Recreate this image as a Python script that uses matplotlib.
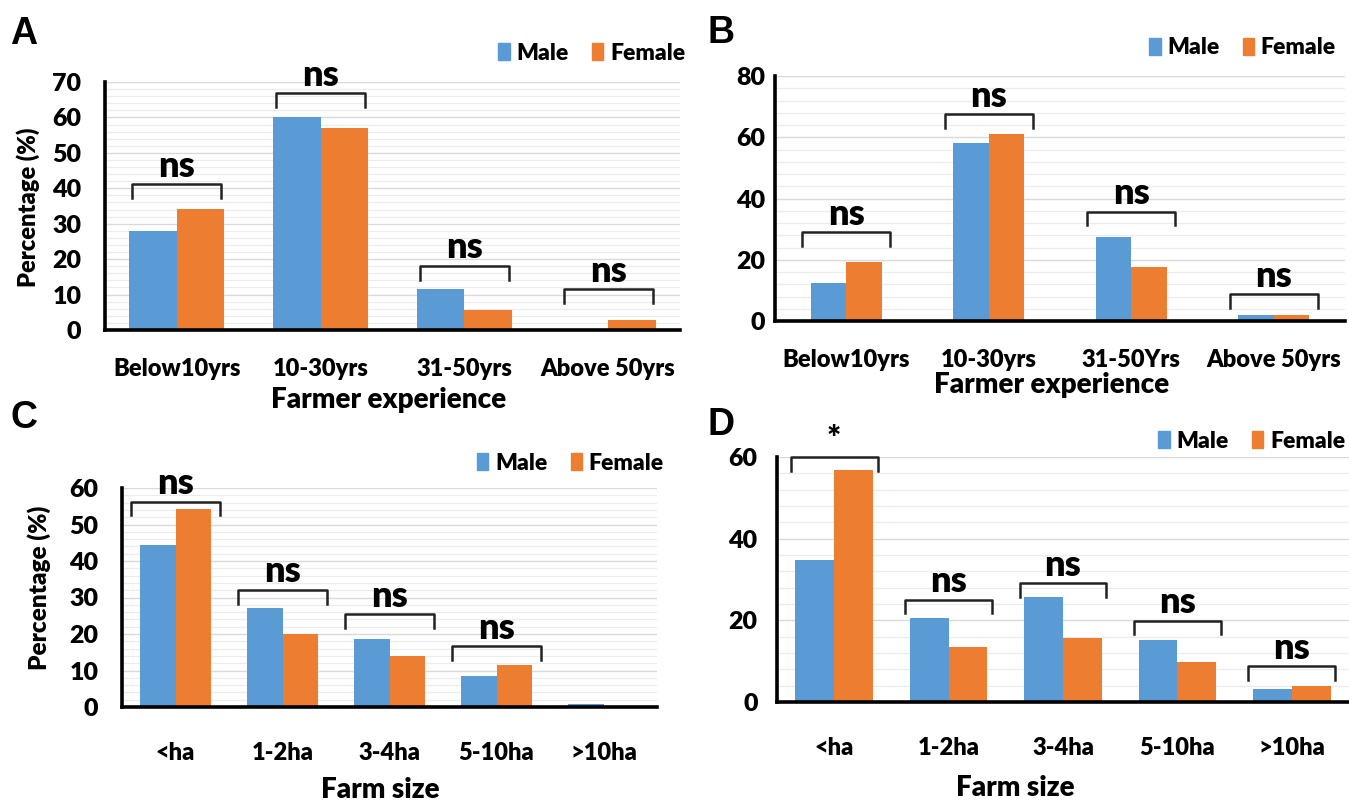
import matplotlib
matplotlib.use("Agg")
import matplotlib.pyplot as plt
import numpy as np
from matplotlib.patches import Patch

plt.rcParams['font.family'] = ['Lato', 'DejaVu Sans']
plt.rcParams['font.weight'] = 'heavy'
FW = 'heavy'

# ---------------- data ----------------
exp_cats_a = ["Below10yrs", "10-30yrs", "31-50yrs", "Above 50yrs"]
exp_male_a = [28.0, 60.0, 11.6, 0.0]
exp_female_a = [34.2, 57.1, 5.6, 2.8]
exp_sig_a = ["ns", "ns", "ns", "ns"]
exp_bracket_a = [41.2, 66.9, 18.1, 11.6]

exp_cats_b = ["Below10yrs", "10-30yrs", "31-50Yrs", "Above 50yrs"]
exp_male_b = [12.3, 58.0, 27.3, 1.9]
exp_female_b = [19.4, 61.0, 17.7, 1.9]
exp_sig_b = ["ns", "ns", "ns", "ns"]
exp_bracket_b = [29.0, 67.5, 35.7, 8.8]

farm_cats = ["<ha", "1-2ha", "3-4ha", "5-10ha", ">10ha"]
farm_male_c = [44.3, 27.1, 18.6, 8.4, 0.8]
farm_female_c = [54.2, 20.0, 14.0, 11.4, 0.0]
farm_sig_c = ["ns", "ns", "ns", "ns", None]
farm_bracket_c = [56.3, 32.1, 25.5, 16.6, None]

farm_male_d = [34.8, 20.5, 25.6, 15.3, 3.3]
farm_female_d = [56.7, 13.5, 15.7, 9.8, 3.9]
farm_sig_d = ["*", "ns", "ns", "ns", "ns"]
farm_bracket_d = [59.9, 25.1, 29.1, 19.9, 8.8]

BLUE = "#5B9BD5"
ORANGE = "#ED7D31"
W, H = 1349, 801

fig = plt.figure(figsize=(W / 100, H / 100), dpi=100)


def make_ax(x0, x1, ytop, ybot):
    return fig.add_axes([x0 / W, 1 - ybot / H, (x1 - x0) / W, (ybot - ytop) / H])


def panel(ax, cats, male, female, sig, brk, ymax, ystep, minor, bw, bhalf, leg,
          letter, letter_xy, legend_xy, xlabel, ylab, xlabel_y, tickpad, ytickpad):
    x = np.arange(len(cats))
    ax.set_xlim(-0.5, len(cats) - 0.5)
    ax.set_ylim(0, ymax)
    ax.bar(x - bw / 2, male, bw, color=BLUE, label="Male", zorder=3)
    ax.bar(x + bw / 2, female, bw, color=ORANGE, label="Female", zorder=3)
    ax.set_yticks(np.arange(0, ymax + 0.1, ystep))
    ax.set_yticks(np.arange(0, ymax + 0.1, minor), minor=True)
    ax.grid(axis='y', which='major', color='#d9d9d9', lw=1.0, zorder=0)
    ax.grid(axis='y', which='minor', color='#ececec', lw=0.9, zorder=0)
    ax.set_xticks(x)
    ax.set_xticklabels(cats, fontsize=17, fontweight=FW)
    for t in ax.get_yticklabels():
        t.set_fontsize(18)
        t.set_fontweight(FW)
    ax.tick_params(axis='both', which='both', length=0)
    ax.tick_params(axis='x', pad=tickpad)
    ax.tick_params(axis='y', pad=ytickpad)
    for s in ['top', 'right']:
        ax.spines[s].set_visible(False)
    for s in ['left', 'bottom']:
        ax.spines[s].set_linewidth(2.6)
        ax.spines[s].set_color('black')
        ax.spines[s].set_zorder(5)
    for i, (s, b) in enumerate(zip(sig, brk)):
        if s is None:
            continue
        ax.plot([i - bhalf, i - bhalf, i + bhalf, i + bhalf], [b - leg, b, b, b - leg],
                color='#222222', lw=1.8, clip_on=False, zorder=4)
        ax.text(i, b + leg * 0.1, s, ha='center', va='bottom', fontsize=26 if s == 'ns' else 24,
                fontweight=FW, clip_on=False)
    if ylab is not None:
        fig.text(ylab[0] / W, 1 - ylab[1] / H, "Percentage (%)",
                 rotation=90, ha='center', va='center', fontsize=ylab[2], fontweight=FW)
    fig.text(xlabel[1] / W, 1 - xlabel_y / H, xlabel[0], ha='center', va='center',
             fontsize=20, fontweight=FW)
    fig.text(letter_xy[0] / W, 1 - letter_xy[1] / H, letter, ha='left', va='center',
             fontsize=27, fontweight='bold', family='Liberation Sans')
    handles = [Patch(color=BLUE, label='Male'), Patch(color=ORANGE, label='Female')]
    fig.legend(handles=handles, loc='center right', ncol=2, frameon=False,
               bbox_to_anchor=(legend_xy[0] / W, 1 - legend_xy[1] / H),
               bbox_transform=fig.transFigure, handlelength=0.5, handleheight=0.8,
               handletextpad=0.3, columnspacing=1.0, borderpad=0, borderaxespad=0,
               prop={'size': 16.5, 'weight': FW})


axA = make_ax(105, 680, 82, 330)
panel(axA, exp_cats_a, exp_male_a, exp_female_a, exp_sig_a, exp_bracket_a, 70, 10, 2, 0.33, 0.31, 3.9,
      "A", (10, 34), (685, 53), ("Farmer experience", 389), (28, 207, 17), 400, 20, 17)

axB = make_ax(775, 1345, 76, 321)
panel(axB, exp_cats_b, exp_male_b, exp_female_b, exp_sig_b, exp_bracket_b, 80, 20, 4, 0.25, 0.31, 4.5,
      "B", (708, 33), (1336, 48), ("Farmer experience", 1052), None, 385, 20, 7)

axC = make_ax(122, 657, 488, 707)
panel(axC, farm_cats, farm_male_c, farm_female_c, farm_sig_c, farm_bracket_c, 60, 10, 2, 0.33, 0.415, 3.8,
      "C", (10, 418), (664, 463), ("Farm size", 380), (39, 588, 17.5), 790, 25, 17)

axD = make_ax(777, 1349, 457, 702)
panel(axD, farm_cats, farm_male_d, farm_female_d, farm_sig_d, farm_bracket_d, 60, 20, 4, 0.34, 0.38, 3.3,
      "D", (708, 425), (1345, 441), ("Farm size", 1015), None, 788, 25, 14)

fig.savefig("out.png", dpi=100, facecolor='white')
